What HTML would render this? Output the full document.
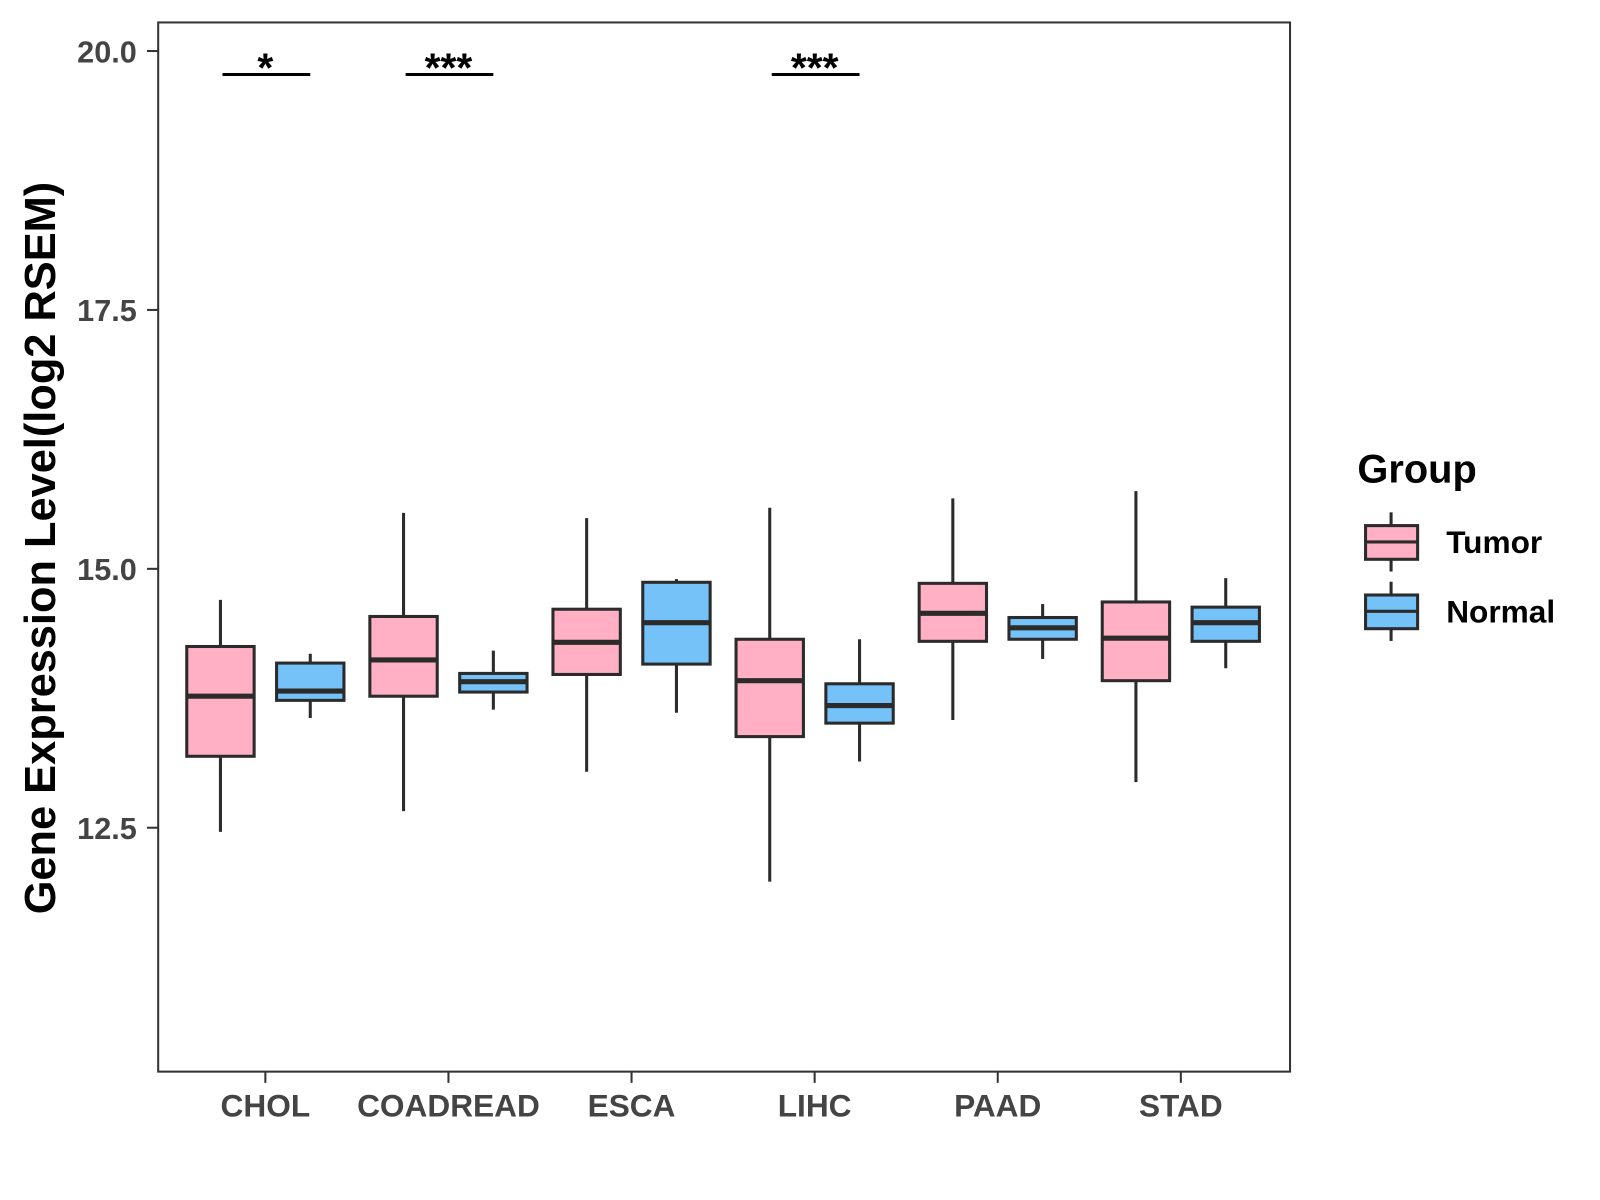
<!DOCTYPE html>
<html><head><meta charset="utf-8"><style>
body{margin:0;background:#fff;}
svg{display:block;font-family:"Liberation Sans",Arial,sans-serif;font-weight:bold;}
</style></head><body>
<svg id="chart" width="1600" height="1200">
<rect x="0" y="0" width="1600" height="1200" fill="#fff"/>
<g transform="scale(1.0206)">
<rect x="155" y="22" width="1109" height="1028" fill="none" stroke="#333" stroke-width="2"/>
<text transform="translate(54,537) rotate(-90)" text-anchor="middle" font-size="42.5" fill="#000">Gene Expression Level(log2 RSEM)</text>
<text x="1330" y="473" font-size="39" fill="#000">Group</text>
<g>
<line x1="1363" y1="502" x2="1363" y2="560" stroke="#2b2b2b" stroke-width="3"/>
<rect x="1338" y="515" width="51" height="33" fill="#FFB0C4" stroke="#2b2b2b" stroke-width="3"/>
<line x1="1338" y1="531" x2="1389" y2="531" stroke="#2b2b2b" stroke-width="3"/>
<text x="1417" y="542" font-size="31" fill="#000">Tumor</text>
</g>
<g>
<line x1="1363" y1="570" x2="1363" y2="628" stroke="#2b2b2b" stroke-width="3"/>
<rect x="1338" y="583" width="51" height="33" fill="#74C2F8" stroke="#2b2b2b" stroke-width="3"/>
<line x1="1338" y1="599" x2="1389" y2="599" stroke="#2b2b2b" stroke-width="3"/>
<text x="1417" y="610" font-size="31" fill="#000">Normal</text>
</g>
<g id="marks"></g>
</g>
</svg>
<script>
const categories=["CHOL","COADREAD","ESCA","LIHC","PAAD","STAD"];
// [lowWhisker, q1, median, q3, highWhisker]
const tumorStats=[[12.46,13.19,13.77,14.25,14.70],[12.66,13.77,14.12,14.54,15.54],[13.04,13.98,14.29,14.61,15.49],[11.98,13.38,13.92,14.32,15.59],[13.54,14.30,14.57,14.86,15.68],[12.94,13.92,14.33,14.68,15.75]];
const normalStats=[[13.56,13.73,13.82,14.09,14.18],[13.64,13.81,13.91,13.99,14.21],[13.61,14.08,14.48,14.87,14.90],[13.14,13.51,13.68,13.89,14.32],[14.13,14.32,14.43,14.53,14.66],[14.04,14.30,14.48,14.63,14.91]];
const significance=["*","***","","***","",""];
const yTicks=[12.5,15.0,17.5,20.0];
const yTickLabels=["12.5","15.0","17.5","20.0"];

const NS="http://www.w3.org/2000/svg";
const g=document.getElementById('marks');
function y(v){return 50+(20-v)*101.47;}
function x(i){return 260+i*179.4;}
function mk(tag,attrs){const e=document.createElementNS(NS,tag);for(const k in attrs)e.setAttribute(k,attrs[k]);g.appendChild(e);return e;}
yTicks.forEach((t,i)=>{
  const l=mk('line',{x1:144,x2:155,y1:y(t),y2:y(t),stroke:'#333','stroke-width':2});
  
  
  const tx=mk('text',{x:134,y:y(t)+11,'text-anchor':'end','font-size':30,fill:'#444'});
  tx.textContent=yTickLabels[i];
  
  
});
function box(cx,s,fill,name){
  const w=33;
  const wl=mk('line',{x1:cx,x2:cx,y1:y(s[4]),y2:y(s[0]),stroke:'#2b2b2b','stroke-width':3});
  
  
  const r=mk('rect',{x:cx-w,y:y(s[3]),width:2*w,height:y(s[1])-y(s[3]),fill:fill,stroke:'#2b2b2b','stroke-width':3});
  
  
  const m=mk('line',{x1:cx-w,x2:cx+w,y1:y(s[2]),y2:y(s[2]),stroke:'#2b2b2b','stroke-width':5});
  
  
}
categories.forEach((c,i)=>{
  const cx=x(i);
  box(cx-44,tumorStats[i],'#FFB0C4','tumor-'+c.toLowerCase());
  box(cx+44,normalStats[i],'#74C2F8','normal-'+c.toLowerCase());
  const t=mk('line',{x1:cx,x2:cx,y1:1050,y2:1061,stroke:'#333','stroke-width':2});
  
  
  const lb=mk('text',{x:cx,y:1094,'text-anchor':'middle','font-size':31,fill:'#444'});
  lb.textContent=c;
  
  
  if(significance[i]){
    const sl=mk('line',{x1:cx-42,x2:cx+44,y1:73,y2:73,stroke:'#000','stroke-width':3});
    
    
    const st=mk('text',{x:cx,y:80,'text-anchor':'middle','font-size':40,fill:'#000'});
    st.textContent=significance[i];
    
    
  }
});
</script>
</body></html>
